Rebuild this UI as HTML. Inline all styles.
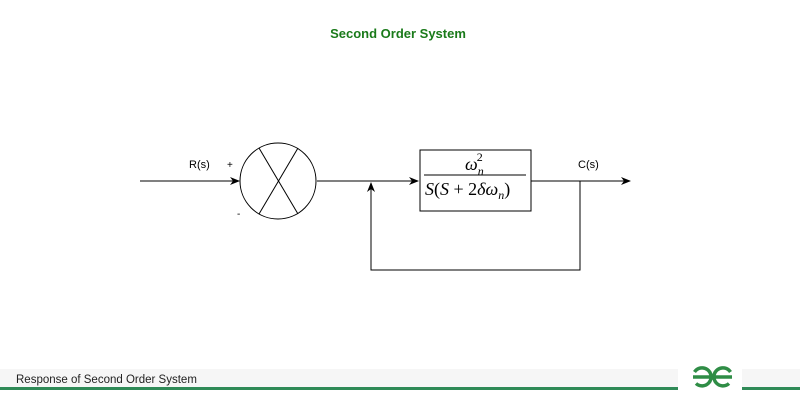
<!DOCTYPE html>
<html><head><meta charset="utf-8"><style>
html,body{margin:0;padding:0;background:#fff;}
svg{display:block;}
</style></head><body>
<svg width="800" height="400" xmlns="http://www.w3.org/2000/svg" font-family="Liberation Sans, sans-serif">
<rect width="800" height="400" fill="#fff"/>
<text x="398" y="38" text-anchor="middle" font-size="13" font-weight="bold" fill="#1a7a1a">Second Order System</text>
<defs><marker id="a" markerWidth="10" markerHeight="8" refX="9" refY="4" orient="auto" markerUnits="userSpaceOnUse"><path d="M0,0 L10,4 L0,8 L3,4 z" fill="#000"/></marker></defs>
<g stroke="#000" stroke-width="1" fill="none">
<line x1="140" y1="181" x2="239" y2="181" marker-end="url(#a)"/>
<circle cx="278" cy="181" r="38"/>
<line x1="259" y1="148" x2="298" y2="214"/>
<line x1="298" y1="148" x2="259" y2="214"/>
<line x1="317" y1="181" x2="418" y2="181" marker-end="url(#a)"/>
<rect x="420" y="150" width="111" height="61"/>
<line x1="531" y1="181" x2="630" y2="181" marker-end="url(#a)"/>
<polyline points="580,181 580,270 371,270 371,183" marker-end="url(#a)"/>
</g>
<text x="189" y="168" font-size="11">R(s)</text>
<text x="227" y="168" font-size="10">+</text>
<text x="237" y="217" font-size="10">-</text>
<text x="578" y="168" font-size="11">C(s)</text>
<g font-family="Liberation Serif, serif" font-style="italic" font-size="18">
<text x="465" y="170">ω<tspan font-size="12" dy="5">n</tspan><tspan font-size="12" font-style="normal" dx="-7" dy="-14">2</tspan></text>
<line x1="424" y1="175" x2="526" y2="175" stroke="#000" stroke-width="1"/>
<text x="425" y="195">S<tspan font-style="normal">(</tspan>S <tspan font-style="normal">+ 2</tspan>δω<tspan font-size="12" dy="4">n</tspan><tspan font-style="normal" dy="-4">)</tspan></text>
</g>
<rect x="0" y="369" width="678" height="19" fill="#f6f6f6"/>
<rect x="742" y="369" width="58" height="19" fill="#f6f6f6"/>
<rect x="0" y="387" width="678" height="3" fill="#2f8a57"/>
<rect x="742" y="387" width="58" height="3" fill="#2f8a57"/>
<text x="16" y="383" font-size="11.5" fill="#222">Response of Second Order System</text>
<g stroke="#2f8d46" stroke-width="3.5" fill="none">
<path d="M694.5,372 A9,9 0 1 1 696,383.5 M693,377 L712,377"/>
<path d="M730.5,372 A9,9 0 1 0 729,383.5 M713,377 L732,377"/>
</g>
</svg>
</body></html>
